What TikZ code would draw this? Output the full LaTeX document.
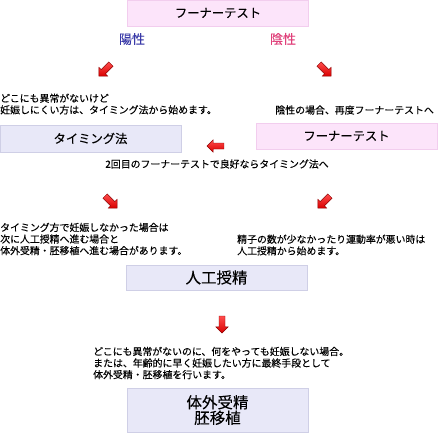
\documentclass[tikz,border=0pt]{standalone}
\usepackage{fontspec}
\newfontfamily\jp[FakeBold=0.12]{Noto Sans CJK JP}
\newfontfamily\jpn[FakeBold=0.2]{Noto Sans CJK JP}
\usetikzlibrary{shapes.arrows}
\definecolor{pinkfill}{HTML}{FCE4FA}
\definecolor{pinkline}{HTML}{F2CDEE}
\definecolor{lavfill}{HTML}{E8E8F8}
\definecolor{lavline}{HTML}{CFCFE6}
\definecolor{yoblue}{HTML}{3A3AA8}
\definecolor{inred}{HTML}{E0407A}
\begin{document}
\begin{tikzpicture}[x=1pt,y=-1pt,
  boxbase/.style={minimum width=181pt, inner sep=0pt, align=center},
  pinkbox/.style={boxbase, draw=pinkline, fill=pinkfill, minimum height=26pt, font=\jp\fontsize{12.3}{14}\selectfont},
  lavbox/.style={boxbase, draw=lavline, fill=lavfill, minimum height=26pt, font=\jp\fontsize{12.3}{14}\selectfont},
  bigbox/.style={lavbox, font=\jp\fontsize{15.5}{16}\selectfont},
  note/.style={inner sep=0pt, align=left, font=\jpn\fontsize{9.9}{11.6}\selectfont},
  sign/.style={inner sep=0pt, font=\jp\fontsize{13}{15}\selectfont},
  redarrow/.style={single arrow, draw=red!55!black, line width=0.4pt,
    top color=red!70, bottom color=red!85!black, shading angle=0,
    minimum height=17pt, minimum width=12pt, inner sep=2.8pt,
    single arrow head extend=3.2pt}
]
\useasboundingbox (0,0) rectangle (438,432);
\fill[white] (0,0) rectangle (438,432);

\node[pinkbox] (fh1) at (218,13) {フーナーテスト};
\node[sign, text=yoblue] (pos) at (132,39) {陽性};
\node[sign, text=inred] (neg) at (283,39) {陰性};

\node[redarrow, rotate=225] (a1) at (106,69) {};
\node[redarrow, rotate=-45] (a2) at (324,69) {};

\node[note, anchor=west] (t1) at (0,104) {どこにも異常がないけど\\妊娠しにくい方は、タイミング法から始めます。};
\node[note, anchor=east] (t2) at (434,110) {陰性の場合、再度フーナーテストへ};

\node[lavbox, minimum height=27pt] (tim) at (90.5,138.5) {タイミング法};
\node[pinkbox] (fh2) at (346.5,136) {フーナーテスト};

\node[redarrow, rotate=180] (a3) at (217,146) {};
\node[note, anchor=center] (t3) at (217,164) {2回目のフーナーテストで良好ならタイミング法へ};

\node[redarrow, rotate=-45] (a4) at (110,201) {};
\node[redarrow, rotate=225] (a5) at (325,201) {};

\node[note, anchor=west] (t4) at (0,239) {タイミング方で妊娠しなかった場合は\\次に人工授精へ進む場合と\\体外受精・胚移植へ進む場合があります。};
\node[note, anchor=west] (t5) at (237,245) {精子の数が少なかったり運動率が悪い時は\\人工授精から始めます。};

\node[bigbox, minimum height=25pt] (ai) at (216.5,277.5) {人工授精};

\node[redarrow, rotate=270] (a6) at (222,323) {};

\node[note, anchor=west] (t6) at (93,363) {どこにも異常がないのに、何をやっても妊娠しない場合。\\または、年齢的に早く妊娠したい方に最終手段として\\体外受精・胚移植を行います。};

\node[bigbox, minimum height=44pt, font=\jp\fontsize{15.5}{15.5}\selectfont] (ivf) at (217.5,410) {体外受精\\胚移植};
\end{tikzpicture}
\end{document}
